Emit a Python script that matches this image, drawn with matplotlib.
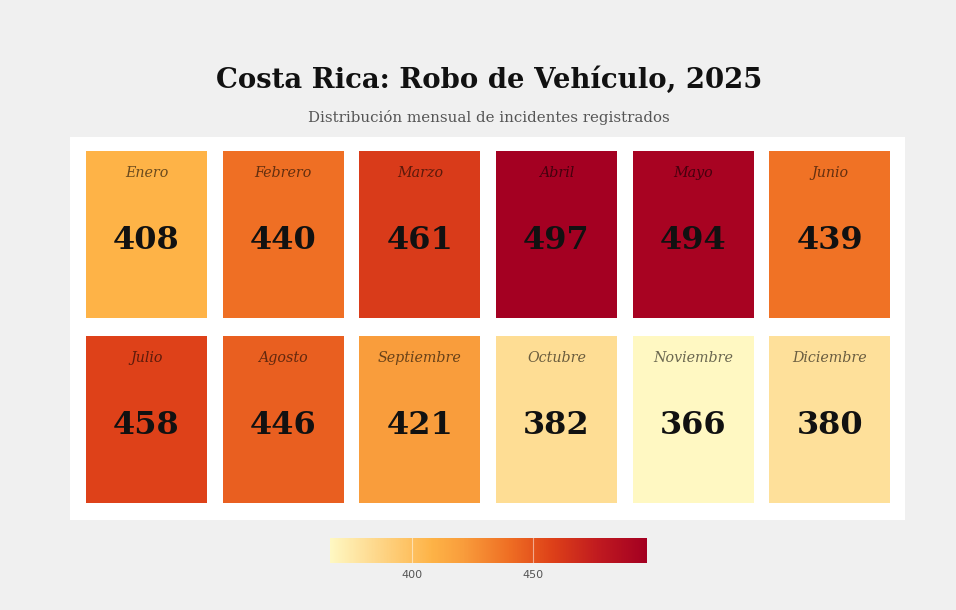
import numpy as np
import matplotlib
matplotlib.use("Agg")
import matplotlib.pyplot as plt
from matplotlib.colors import LinearSegmentedColormap, Normalize
from matplotlib.patches import Rectangle

# datos mensuales
meses = ["Enero", "Febrero", "Marzo", "Abril", "Mayo", "Junio",
         "Julio", "Agosto", "Septiembre", "Octubre", "Noviembre", "Diciembre"]
incidentes = [408, 440, 461, 497, 494, 439, 458, 446, 421, 382, 366, 380]
cb_ticks = [400, 450]

ncols = 6
bg = "#f0f0f0"

# escala amarillo-naranja-rojo, parecida a la del original
cmap = LinearSegmentedColormap.from_list("ylorrd_web", [
    (0.0, "#fff8c2"), (0.107, "#fee09a"), (0.321, "#feb347"), (0.42, "#f99d3c"),
    (0.565, "#ef6f24"), (0.702, "#de4119"), (0.85, "#c01a20"), (1.0, "#a40022")])
norm = Normalize(vmin=min(incidentes), vmax=max(incidentes))

fig = plt.figure(figsize=(9.56, 6.10), dpi=100, facecolor=bg)

fig.text(0.512, 0.868, "Costa Rica: Robo de Vehículo, 2025", ha="center", va="center",
         fontsize=19.8, fontweight="bold", family="DejaVu Serif", color="#111111")
fig.text(0.511, 0.808, "Distribución mensual de incidentes registrados", ha="center", va="center",
         fontsize=10.8, family="DejaVu Serif", color="#555555")

ax = fig.add_axes([70 / 956, 1 - 520 / 610, 835 / 956, 383 / 610])
ax.set_facecolor("white")
for s in ax.spines.values():
    s.set_visible(False)
ax.set_xticks([])
ax.set_yticks([])
ax.set_xlim(-0.56, 5.55)
ax.set_ylim(1.543, -0.527)

tw, th = 0.886, 0.903
for i, (mes, val) in enumerate(zip(meses, incidentes)):
    r, c = divmod(i, ncols)
    col = np.array(cmap(norm(val)))
    ax.add_patch(Rectangle((c - tw / 2, r - th / 2), tw, th, facecolor=col, edgecolor="none"))
    lab = col[:3] * 0.42
    ax.text(c, r - 0.335, mes, ha="center", va="center", fontsize=10.3,
            style="italic", family="DejaVu Serif", color=lab)
    ax.text(c, r + 0.03, str(val), ha="center", va="center", fontsize=23,
            fontweight="bold", family="DejaVu Serif", color="#111111")

# barra de color
cax = fig.add_axes([330 / 956, 1 - 563 / 610, 317 / 956, 25 / 610])
grad = np.linspace(norm.vmin, norm.vmax, 400).reshape(1, -1)
cax.imshow(grad, aspect="auto", cmap=cmap, norm=norm,
           extent=[norm.vmin, norm.vmax, 0, 1])
for t in cb_ticks:
    cax.axvline(t, color="white", lw=0.8, alpha=0.5)
cax.set_xlim(norm.vmin, norm.vmax)
cax.set_yticks([])
cax.set_xticks(cb_ticks)
cax.tick_params(axis="x", length=0, labelsize=8, labelcolor="#555555", pad=5)
for s in cax.spines.values():
    s.set_visible(False)

fig.savefig("out.png", dpi=100, facecolor=bg)
